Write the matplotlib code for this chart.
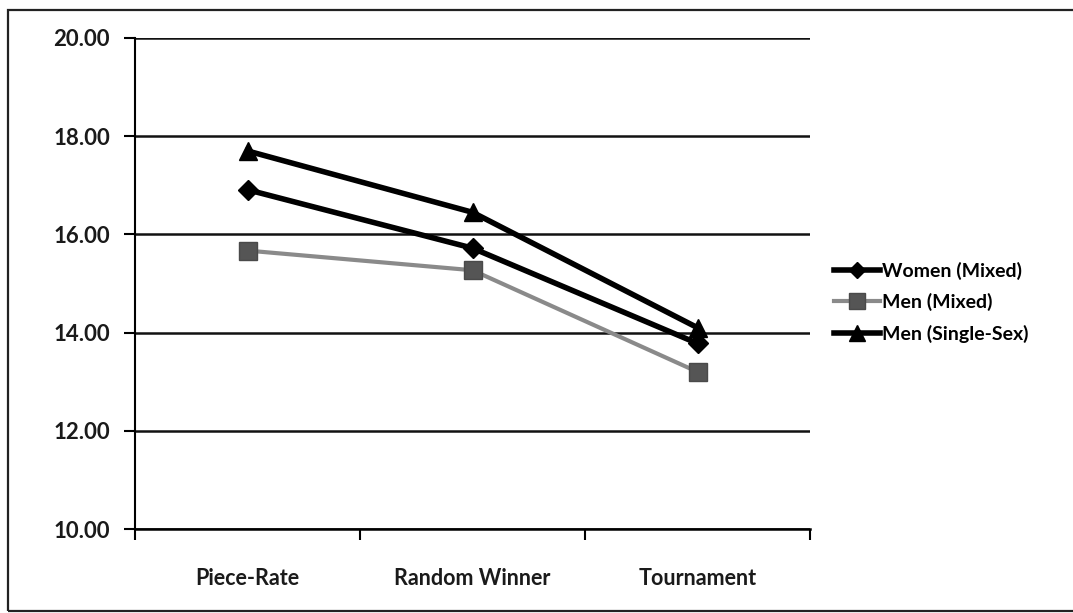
import matplotlib
matplotlib.use("Agg")
import matplotlib.pyplot as plt
from matplotlib.patches import Rectangle

categories = ["Piece-Rate", "Random Winner", "Tournament"]
women_mixed = [16.91, 15.72, 13.78]
men_mixed = [15.67, 15.27, 13.20]
men_single = [17.70, 16.45, 14.10]
series_names = ["Women (Mixed)", "Men (Mixed)", "Men (Single-Sex)"]
y_ticks = [10, 12, 14, 16, 18, 20]

plt.rcParams["font.family"] = ["Lato", "DejaVu Sans"]

W, H = 1073, 613
fig = plt.figure(figsize=(W / 100, H / 100), dpi=100)
fig.patch.set_facecolor("white")

# outer chart frame
fig.add_artist(Rectangle((8 / W, 2 / H), 1.2, 1 - 12 / H, transform=fig.transFigure,
                         fill=False, edgecolor="#222222", linewidth=1.6))

ax = fig.add_axes([135 / W, 1 - 529 / H, (810 - 135) / W, (529 - 38) / H])
x = [0, 1, 2]

ax.plot(x, women_mixed, color="black", lw=4, marker="D", ms=10, mec="black", mfc="black",
        label=series_names[0], zorder=4)
ax.plot(x, men_mixed, color="#8a8a8a", lw=3, marker="s", ms=13, mec="#4a4a4a", mfc="#555555",
        label=series_names[1], zorder=3)
ax.plot(x, men_single, color="black", lw=4, marker="^", ms=13, mec="black", mfc="black",
        label=series_names[2], zorder=5)

ax.set_xlim(-0.5, 2.5)
ax.set_ylim(10, 20)
ax.set_yticks(y_ticks)
ax.set_yticklabels([f"{v:.2f}" for v in y_ticks], fontsize=16, fontweight="bold", color="#1a1a1a")
ax.yaxis.grid(True, color="#111111", lw=1.8)
ax.set_axisbelow(True)

ax.set_xticks([-0.5, 0.5, 1.5, 2.5])
ax.set_xticklabels([])
ax.set_xticks(x, minor=True)
ax.set_xticklabels(categories, minor=True, fontsize=15.5, fontweight="bold", color="#1a1a1a")
ax.tick_params(axis="x", which="minor", length=0, pad=28)
ax.tick_params(axis="x", which="major", length=8, width=1.5, direction="out")
ax.tick_params(axis="y", length=8, width=1.5, direction="out", pad=10)

for s in ["top", "right"]:
    ax.spines[s].set_visible(False)
ax.spines["left"].set_linewidth(1.5)
ax.spines["bottom"].set_linewidth(1.8)

leg = fig.legend(handles=ax.get_lines(), labels=series_names,
                 loc="upper left", bbox_to_anchor=(816 / W, 1 - 244 / H),
                 frameon=False, handlelength=2.4, handletextpad=0.1,
                 labelspacing=0.7, prop={"weight": "bold", "size": 14})
for h in leg.legend_handles:
    h.set_markersize(h.get_markersize() * 0.85)

fig.savefig("out.png", dpi=100, facecolor="white")
